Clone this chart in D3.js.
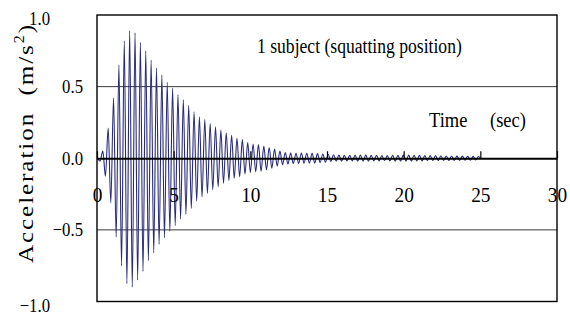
<!DOCTYPE html>
<html lang="en">
<head>
<meta charset="utf-8">
<title>Acceleration - 1 subject (squatting position)</title>
<script src="https://cdn.jsdelivr.net/npm/d3@7"></script>
<style>
  body { margin: 0; background: #fff; }
  text { font-family: "Liberation Serif", "Times New Roman", serif; fill: #000; }
</style>
</head>
<body>
<script>
// peak times (sec), start point + alternating trough/peak + end point
const timeSec = [0.03,
  0.2,0.38, 0.55,0.73, 0.9,1.08, 1.25,1.43, 1.6,1.78, 1.95,2.13, 2.3,2.48, 2.65,2.83, 3.0,3.18, 3.35,3.53,
  3.7,3.88, 4.05,4.23, 4.4,4.58, 4.75,4.93, 5.1,5.28, 5.45,5.63, 5.8,5.98, 6.15,6.33, 6.5,6.68, 6.85,7.03,
  7.2,7.38, 7.55,7.73, 7.9,8.08, 8.25,8.43, 8.6,8.78, 8.95,9.13, 9.3,9.48, 9.65,9.83, 10.0,10.18, 10.35,10.53,
  10.7,10.88, 11.05,11.23, 11.4,11.58, 11.75,11.93, 12.1,12.28, 12.45,12.63, 12.8,12.98, 13.15,13.33, 13.5,13.68, 13.85,14.03,
  14.2,14.38, 14.55,14.73, 14.9,15.08, 15.25,15.43, 15.6,15.78, 15.95,16.13, 16.3,16.48, 16.65,16.83, 17.0,17.18, 17.35,17.53,
  17.7,17.88, 18.05,18.23, 18.4,18.58, 18.75,18.93, 19.1,19.28, 19.45,19.63, 19.8,19.98, 20.15,20.33, 20.5,20.68, 20.85,21.03,
  21.2,21.38, 21.55,21.73, 21.9,22.08, 22.25,22.43, 22.6,22.78, 22.95,23.13, 23.3,23.48, 23.65,23.83, 24.0,24.18, 24.35,24.53,
  24.7,24.88,
  25.0];

// acceleration (m/s2) at those times
const accel = [0,
  -0.02,0.05, -0.125,0.21, -0.31,0.42, -0.55,0.65, -0.75,0.82, -0.875,0.89, -0.9,0.875, -0.85,0.81, -0.79,0.75, -0.715,0.685,
  -0.66,0.63, -0.6,0.58, -0.555,0.53, -0.51,0.49, -0.47,0.445, -0.425,0.41, -0.39,0.37, -0.35,0.325, -0.3,0.29, -0.27,0.27,
  -0.245,0.243, -0.22,0.22, -0.2,0.196, -0.175,0.178, -0.155,0.16, -0.14,0.14, -0.13,0.13, -0.11,0.11, -0.1,0.1, -0.095,0.095,
  -0.09,0.085, -0.08,0.075, -0.07,0.065, -0.055,0.05, -0.045,0.04, -0.04,0.036, -0.037,0.035, -0.036,0.036, -0.035,0.035, -0.034,0.034,
  -0.033,0.032, -0.03,0.03, -0.028,0.028, -0.022,0.024, -0.02,0.022, -0.02,0.02, -0.018,0.02, -0.018,0.02, -0.02,0.022, -0.02,0.022,
  -0.02,0.02, -0.018,0.02, -0.018,0.018, -0.017,0.018, -0.018,0.02, -0.02,0.02, -0.02,0.022, -0.02,0.022, -0.02,0.02, -0.018,0.02,
  -0.018,0.018, -0.017,0.018, -0.017,0.018, -0.016,0.017, -0.016,0.016, -0.016,0.016, -0.015,0.015, -0.015,0.015, -0.014,0.014, -0.014,0.013,
  -0.012,0.012,
  0];

const xTicks = [0, 5, 10, 15, 20, 25, 30];
const yTicks = [-1.0, -0.5, 0.0, 0.5, 1.0];
const gridVals = [-0.5, 0.5];
const titleText = "1 subject (squatting position)";

const width = 570, height = 316;
const plot = {left: 97, right: 557, top: 15, bottom: 301.5};
const squeeze = 0.88; // the original figure looks horizontally condensed

const svg = d3.select("body").append("svg")
    .attr("width", width)
    .attr("height", height);

const x = d3.scaleLinear().domain([0, 30]).range([plot.left, plot.right]);
const y = d3.scaleLinear().domain([-1, 1]).range([plot.bottom, plot.top]);

function condense(sel, k) {
  sel.each(function() {
    const w = this.getComputedTextLength();
    d3.select(this).attr("textLength", w * k).attr("lengthAdjust", "spacingAndGlyphs");
  });
}

// gridlines
svg.append("g").selectAll("line")
  .data(gridVals)
  .join("line")
    .attr("x1", plot.left).attr("x2", plot.right)
    .attr("y1", d => y(d)).attr("y2", d => y(d))
    .attr("stroke", "#3a3a3a")
    .attr("stroke-width", 1);

// trace
const line = d3.line()
    .x(d => x(d[0]))
    .y(d => y(d[1]))
    .curve(d3.curveMonotoneX);

svg.append("path")
    .datum(timeSec.map((t, i) => [t, accel[i]]))
    .attr("fill", "none")
    .attr("stroke", "#282a7c")
    .attr("stroke-width", 1.1)
    .attr("d", line);

// frame
svg.append("rect")
    .attr("x", plot.left).attr("y", plot.top)
    .attr("width", plot.right - plot.left)
    .attr("height", plot.bottom - plot.top)
    .attr("fill", "none")
    .attr("stroke", "#000")
    .attr("stroke-width", 1.4);

// x axis through zero, ticks pointing up
const xAxis = d3.axisBottom(x)
    .tickValues(xTicks)
    .tickFormat(d3.format("d"))
    .tickSizeInner(-7)
    .tickSizeOuter(0)
    .tickPadding(28);

const gX = svg.append("g")
    .attr("transform", `translate(0,${y(0)})`)
    .call(xAxis);
gX.select(".domain").attr("stroke", "#000").attr("stroke-width", 2);
gX.selectAll(".tick line").attr("stroke", "#000").attr("stroke-width", 1.2);
gX.selectAll(".tick text")
    .attr("font-family", "Liberation Serif")
    .attr("font-size", 22)
    .call(condense, squeeze);

// y labels (no tick marks); 1.0 and -1.0 sit further left in the original
const yAxis = d3.axisLeft(y)
    .tickValues(yTicks)
    .tickFormat(d3.format(".1f"))
    .tickSize(0)
    .tickPadding(14);

const gY = svg.append("g")
    .attr("transform", `translate(${plot.left},0)`)
    .call(yAxis);
gY.select(".domain").remove();
gY.selectAll(".tick text")
    .attr("font-family", "Liberation Serif")
    .attr("font-size", 19)
    .attr("x", d => Math.abs(d) === 1 ? -47 : -14)
    .attr("dy", d => Math.abs(d) === 1 ? "0.5em" : "0.32em")
    .call(condense, squeeze);

// y axis title (stretched along its length like the original)
const stretch = 1.14;
const yTitle = svg.append("text")
    .attr("transform", `translate(33,144) rotate(-90) scale(${stretch},1)`)
    .attr("text-anchor", "middle")
    .attr("font-size", 22);
yTitle.append("tspan").text("Acceleration\u00a0\u00a0(m/s");
yTitle.append("tspan").attr("font-size", 14).attr("dy", -9).text("2");
yTitle.append("tspan").attr("dy", 9).text(")");
yTitle.attr("textLength", 238 / stretch).attr("lengthAdjust", "spacing");

// in-plot labels
svg.append("text")
    .attr("x", 257).attr("y", 53)
    .attr("font-size", 20)
    .text(titleText)
    .call(condense, squeeze);

const xLab = svg.append("text")
    .attr("y", 127)
    .attr("font-size", 21);
xLab.append("tspan").attr("x", 429).text("Time");
xLab.append("tspan").attr("x", 490).text("(sec)");
xLab.selectAll("tspan").call(condense, squeeze);
</script>
</body>
</html>
